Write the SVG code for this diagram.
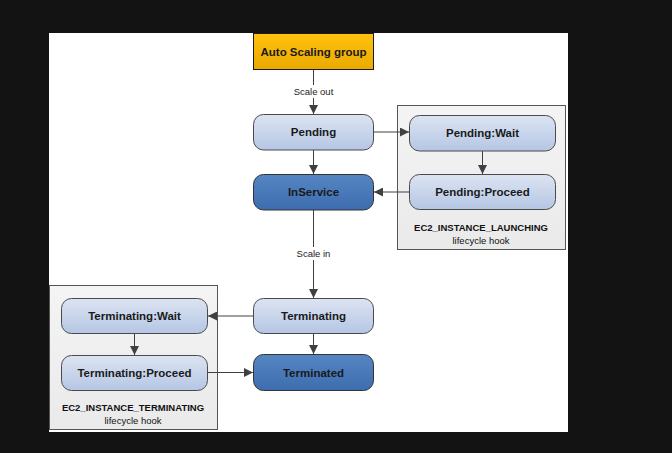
<svg xmlns="http://www.w3.org/2000/svg" width="672" height="453" viewBox="0 0 672 453">
<defs>
<linearGradient id="gGold" x1="0" y1="0" x2="0" y2="1"><stop offset="0" stop-color="#FFC20E"/><stop offset="1" stop-color="#EBA900"/></linearGradient>
<linearGradient id="gLight" x1="0" y1="0" x2="0" y2="1"><stop offset="0" stop-color="#DCE4F2"/><stop offset="1" stop-color="#B5C6E4"/></linearGradient>
<linearGradient id="gDark" x1="0" y1="0" x2="0" y2="1"><stop offset="0" stop-color="#5585C2"/><stop offset="1" stop-color="#3D6DAE"/></linearGradient>
<linearGradient id="gGroup" x1="0" y1="0" x2="0" y2="1"><stop offset="0" stop-color="#F4F4F4"/><stop offset="1" stop-color="#EAEAEA"/></linearGradient>
<marker id="arr" viewBox="0 0 10 10" refX="10" refY="5" markerWidth="9" markerHeight="9" markerUnits="userSpaceOnUse" orient="auto">
<path d="M0,0 L10,5 L0,10 z" fill="#404040"/>
</marker>
</defs>
<style>
.node text{font-family:"Liberation Sans",Arial,sans-serif;font-weight:bold;font-size:11.5px;fill:#1a1a1a;text-anchor:middle;dominant-baseline:central}
.light{fill:url(#gLight);stroke:#4a4a4a;stroke-width:1}
.dark{fill:url(#gDark);stroke:#333;stroke-width:1}
.grp{fill:url(#gGroup);stroke:#555;stroke-width:1}
.edge{stroke:#404040;stroke-width:1;fill:none;marker-end:url(#arr)}
.lbl{font-family:"Liberation Sans",Arial,sans-serif;font-size:9.5px;fill:#222;text-anchor:middle;dominant-baseline:central}
.hook{font-family:"Liberation Sans",Arial,sans-serif;font-size:9.5px;fill:#111;text-anchor:middle}
</style>
<rect x="0" y="0" width="672" height="453" fill="#131313"/>
<rect x="49" y="33" width="519" height="399" fill="#ffffff"/>

<g id="launching-hook">
<rect class="grp" x="397.5" y="105.5" width="168" height="144"/>
<text class="hook" x="481" y="231" font-weight="bold">EC2_INSTANCE_LAUNCHING</text>
<text class="hook" x="481" y="244">lifecycle hook</text>
</g>
<g id="terminating-hook">
<rect class="grp" x="49.5" y="285.5" width="168" height="144"/>
<text class="hook" x="133" y="411" font-weight="bold">EC2_INSTANCE_TERMINATING</text>
<text class="hook" x="133" y="424">lifecycle hook</text>
</g>

<g id="connectors">
<line class="edge" x1="313.5" y1="70" x2="313.5" y2="114"/>
<rect x="288" y="85" width="52" height="13" fill="#ffffff"/>
<text class="lbl" x="313.5" y="91.5">Scale out</text>
<line class="edge" x1="313.5" y1="150" x2="313.5" y2="174"/>
<line class="edge" x1="374" y1="132" x2="409" y2="132"/>
<line class="edge" x1="482.5" y1="151" x2="482.5" y2="174"/>
<line class="edge" x1="409" y1="192" x2="374" y2="192"/>
<line class="edge" x1="313.5" y1="210" x2="313.5" y2="298"/>
<rect x="292" y="247" width="44" height="13" fill="#ffffff"/>
<text class="lbl" x="313.5" y="253.5">Scale in</text>
<line class="edge" x1="253" y1="316" x2="208" y2="316"/>
<line class="edge" x1="313.5" y1="334" x2="313.5" y2="354"/>
<line class="edge" x1="134.5" y1="334" x2="134.5" y2="355"/>
<line class="edge" x1="208" y1="372.5" x2="253" y2="372.5"/>
</g>

<g id="asg" class="node">
<rect x="253.5" y="33.5" width="120" height="36" fill="url(#gGold)" stroke="#1a1a1a" stroke-width="1"/>
<text x="313.5" y="51.5">Auto Scaling group</text>
</g>
<g id="pending" class="node">
<rect class="light" x="253.5" y="114.5" width="120" height="35.5" rx="10"/>
<text x="313.5" y="132">Pending</text>
</g>
<g id="inservice" class="node">
<rect class="dark" x="253.5" y="174.5" width="120" height="35.5" rx="10"/>
<text x="313.5" y="192">InService</text>
</g>
<g id="pending-wait" class="node">
<rect class="light" x="409.5" y="115.5" width="146" height="35.5" rx="10"/>
<text x="482.5" y="133">Pending:Wait</text>
</g>
<g id="pending-proceed" class="node">
<rect class="light" x="409.5" y="174.5" width="146" height="35" rx="10"/>
<text x="482.5" y="192">Pending:Proceed</text>
</g>
<g id="terminating" class="node">
<rect class="light" x="253.5" y="298.5" width="120" height="35" rx="10"/>
<text x="313.5" y="316">Terminating</text>
</g>
<g id="terminated" class="node">
<rect class="dark" x="253.5" y="354.5" width="120" height="36" rx="10"/>
<text x="313.5" y="372.5">Terminated</text>
</g>
<g id="terminating-wait" class="node">
<rect class="light" x="61.5" y="298.5" width="146" height="35" rx="10"/>
<text x="134.5" y="316">Terminating:Wait</text>
</g>
<g id="terminating-proceed" class="node">
<rect class="light" x="61.5" y="355.5" width="146" height="35" rx="10"/>
<text x="134.5" y="373">Terminating:Proceed</text>
</g>
</svg>
